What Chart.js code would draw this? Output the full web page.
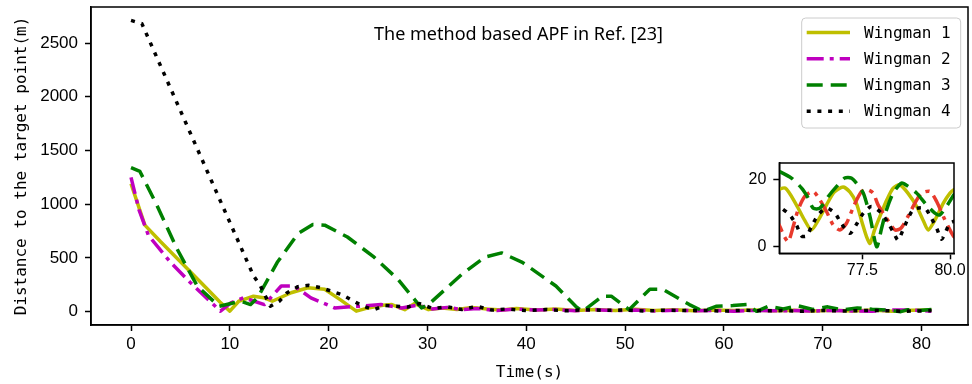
<!DOCTYPE html>
<html>
<head>
<meta charset="utf-8">
<script src="https://cdn.jsdelivr.net/npm/chart.js@4.4.0/dist/chart.umd.min.js"></script>
<style>
  html, body { margin: 0; padding: 0; background: #fff; }
  #wrap { position: relative; width: 972px; height: 384px; }
  #main { position: absolute; left: 0; top: 0; }
  #inset { position: absolute; left: 739px; top: 150px; }
</style>
</head>
<body>
<div id="wrap">
  <canvas id="main" width="972" height="384"></canvas>
  <canvas id="inset" width="233" height="134"></canvas>
</div>
<script>
// ---- main plot data (time in s, distance in m) ----
const w1Time = [0, 1.4, 3, 5, 7, 9, 10, 10.9, 12.4, 13.4, 14.3, 16.2, 17.9, 19.6, 21.2, 22.8, 24.0, 25.5, 26.4, 27.7, 28.7, 30.1,
  31.5, 33, 34.5, 36, 37.5, 39, 41, 43, 45, 47, 49, 51, 53, 55, 57, 59, 61, 63, 65, 67, 69, 71, 73, 75, 77, 79, 81];
const w1Dist = [1190, 805, 650, 465, 278, 90, 5, 97, 144, 130, 97, 176, 223, 208, 110, 5, 35, 60, 66, 19, 75, 19,
  35, 20, 40, 25, 15, 30, 15, 25, 10, 20, 12, 22, 10, 18, 8, 16, 10, 15, 8, 14, 7, 13, 6, 16, 3, 14, 16];

const w2Time = [0, 0.8, 1.76, 4, 6, 9.05, 10.1, 11.4, 13.5, 15.2, 16.5, 18.2, 20.6, 23.0, 25.3, 27.4,
  29, 30.5, 32, 33.5, 35, 37, 39, 41, 43, 45, 47, 49, 51, 53, 55, 57, 59, 61, 63, 65, 67, 69, 71, 73, 75, 77, 79, 81];
const w2Dist = [1250, 950, 710, 459, 271, 5, 82, 129, 66, 239, 239, 129, 35, 50, 66, 35,
  60, 25, 40, 20, 30, 10, 25, 15, 20, 8, 18, 10, 15, 6, 14, 8, 12, 5, 12, 8, 10, 5, 12, 7, 4, 16, 15, 5];

const w3Time = [0, 0.9, 2.6, 4.65, 6.7, 8.9, 11.1, 12.1, 12.8, 14.8, 16.9, 18.4, 19.6, 21.9, 24.6, 27.0, 28.7, 29.4,
  30.1, 33.5, 35.8, 37.5, 39.6, 43.0, 45.0, 45.7, 47.7, 48.6, 50.4, 52.5, 53.8, 56.5, 57.9, 59.2, 60.9, 62.3, 63.3,
  64.5, 66, 67.5, 69, 70.5, 72, 73.5, 75, 76.5, 77.9, 78.6, 79.7, 81];
const w3Dist = [1340, 1305, 994, 585, 239, 50, 97, 66, 129, 459, 726, 811, 805, 695, 507, 302, 113, 35,
  66, 349, 507, 547, 459, 239, 50, 3, 144, 144, 19, 208, 208, 66, 3, 50, 57, 66, 3,
  50, 25, 55, 20, 45, 15, 35, 22, 15, 0, 19, 10, 20];

const w4Time = [0, 1.1, 12.4, 13.1, 14.1, 15.0, 15.8, 16.9, 18.0, 19.2, 21.3, 23.5, 24.6, 25.7, 28.0, 29.2,
  30.5, 32, 33.5, 35, 36.5, 38, 40, 42, 44, 46, 48, 50, 52, 54, 56, 58, 60, 62, 64, 66, 68, 70, 72, 74, 76, 78, 80, 81];
const w4Dist = [2710, 2680, 333, 239, 50, 97, 176, 233, 245, 223, 160, 50, 19, 57, 44, 75,
  30, 45, 20, 50, 15, 25, 10, 20, 8, 18, 12, 15, 6, 14, 10, 12, 5, 13, 8, 10, 4, 12, 6, 10, 10, 4, 7, 10];

// ---- inset data (zoom on 75–80 s) ----
const in1Time = [75.0, 75.3, 75.62, 75.85, 76.05, 76.25, 76.48, 76.7, 76.95, 77.15, 77.33, 77.5, 77.62, 77.72, 77.85,
  78.0, 78.2, 78.38, 78.57, 78.8, 79.05, 79.25, 79.38, 79.6, 79.81, 80.0, 80.11, 80.25];
const in1Dist = [16.5, 17.5, 12.5, 8, 5, 8, 12.5, 16.3, 17.8, 16.3, 13, 7, 3, 1, 5,
  9, 14, 17.5, 18.5, 16, 12, 7.5, 5, 8.5, 13, 16, 17, 17.5];

const in2Time = [75.0, 75.15, 75.28, 75.39, 75.53, 75.67, 75.86, 76.1, 76.29, 76.48, 76.67, 76.86, 77.05, 77.25, 77.48,
  77.65, 77.81, 77.95, 78.19, 78.43, 78.6, 78.8, 79.0, 79.19, 79.43, 79.62, 79.81, 79.95, 80.11, 80.25];
const in2Dist = [9, 6, 3, 1.5, 6, 11, 15, 16.5, 14, 10.5, 6.5, 5, 7, 12, 16.5,
  17, 16, 12.5, 8.5, 5, 5.5, 9, 13, 16, 16.5, 13.5, 9, 6, 3, 2];

const in3Time = [75.0, 75.13, 75.48, 75.77, 75.96, 76.1, 76.29, 76.53, 76.77, 77.0, 77.19, 77.33, 77.53, 77.72, 77.91,
  78.05, 78.19, 78.38, 78.62, 78.81, 79.05, 79.33, 79.57, 79.71, 79.9, 80.11, 80.25];
const in3Dist = [23, 22.5, 20.5, 17.5, 14.5, 11.5, 11.5, 15, 18, 20.5, 20.5, 19, 16, 9, 0,
  5.5, 11, 16, 19, 18, 16, 12.5, 10, 9.5, 12, 15.5, 17];

const in4Time = [75.0, 75.2, 75.43, 75.62, 75.77, 75.91, 76.05, 76.24, 76.48, 76.72, 76.91, 77.15, 77.34, 77.53, 77.76,
  78.05, 78.24, 78.4, 78.52, 78.7, 78.95, 79.28, 79.47, 79.62, 79.76, 79.88, 80.0, 80.25];
const in4Dist = [13, 11.5, 9.5, 6.5, 3.2, 3.2, 6, 9.5, 11.5, 10, 6.8, 4, 6.8, 10, 12,
  10, 7, 4, 2, 6, 11, 11.5, 8.5, 5.5, 2.2, 4.5, 7, 8];

const seriesNames = ['Wingman 1', 'Wingman 2', 'Wingman 3', 'Wingman 4'];
const xTicks = [0, 10, 20, 30, 40, 50, 60, 70, 80];
const yTicks = [0, 500, 1000, 1500, 2000, 2500];
const insetXTicks = [77.5, 80.0];
const insetYTicks = [0, 20];
const titleText = 'The method based APF in Ref. [23]';

// ---- styles ----
const colors = ['#bfbf00', '#bf00bf', '#008000', '#000000'];
const insetColors = ['#bfbf00', '#e8392c', '#008000', '#000000'];
const dashes = [[], [17, 6, 4, 6], [16, 8], [4, 6.7]];
const LW = 3.5;
const tickFont = { family: 'Liberation Sans', size: 17 };

function pts(t, d) {
  return t.map((v, i) => ({ x: v, y: d[i] }));
}

function makeSets(pairs, cols, width, tension) {
  return pairs.map((p, i) => ({
    label: seriesNames[i],
    data: pts(p[0], p[1]),
    borderColor: cols[i],
    backgroundColor: cols[i],
    borderWidth: width,
    borderDash: dashes[i],
    borderCapStyle: 'butt',
    borderJoinStyle: 'round',
    pointRadius: 0,
    fill: false,
    tension: tension,
    order: 4 - i
  }));
}

function fixTicks(values) {
  return function (scale) {
    scale.ticks = values.map(v => ({ value: v }));
  };
}

// fixed axis size, no extra padding for overflowing tick labels
function fitSize(prop, size) {
  return function (s) {
    s[prop] = size;
    s.paddingTop = 0; s.paddingBottom = 0; s.paddingLeft = 0; s.paddingRight = 0;
  };
}

const boxPlugin = {
  id: 'boxPlugin',
  beforeDraw(chart) {
    const a = chart.chartArea, ctx = chart.ctx;
    ctx.save();
    ctx.fillStyle = '#fff';
    ctx.fillRect(a.left, a.top, a.right - a.left, a.bottom - a.top);
    ctx.restore();
  },
  afterDraw(chart) {
    const a = chart.chartArea, ctx = chart.ctx;
    ctx.save();
    ctx.strokeStyle = '#000';
    ctx.lineWidth = 1.5;
    ctx.strokeRect(a.left, a.top, a.right - a.left, a.bottom - a.top);
    ctx.restore();
  }
};

// title text and legend inside the main axes
const decorPlugin = {
  id: 'decorPlugin',
  afterDraw(chart) {
    const a = chart.chartArea, ctx = chart.ctx;
    ctx.save();
    ctx.fillStyle = '#000';
    ctx.font = '18px "Noto Sans"';
    ctx.textAlign = 'center';
    ctx.textBaseline = 'alphabetic';
    ctx.fillText(titleText, (a.left + a.right) / 2 - 11, a.top + 33);

    // legend
    const bw = 159, bh = 110;
    const bx = a.right - 7.3 - bw, by = a.top + 11;
    ctx.beginPath();
    ctx.roundRect(bx, by, bw, bh, 4);
    ctx.fillStyle = 'rgba(255,255,255,0.8)';
    ctx.fill();
    ctx.strokeStyle = '#cccccc';
    ctx.lineWidth = 1;
    ctx.stroke();
    ctx.font = '16px "DejaVu Sans Mono"';
    ctx.textAlign = 'left';
    ctx.textBaseline = 'middle';
    chart.data.datasets.forEach((ds, i) => {
      const y = by + 14.4 + i * 26.3;
      ctx.beginPath();
      ctx.setLineDash(ds.borderDash);
      ctx.lineCap = 'butt';
      ctx.strokeStyle = ds.borderColor;
      ctx.lineWidth = LW;
      ctx.moveTo(bx + 5, y);
      ctx.lineTo(bx + 48.3, y);
      ctx.stroke();
      ctx.setLineDash([]);
      ctx.fillStyle = '#000';
      ctx.fillText(ds.label, bx + 62.3, y + 1);
    });
    ctx.restore();
  }
};

function axisOpts(extra) {
  return Object.assign({
    type: 'linear',
    grid: { drawOnChartArea: false, drawTicks: true, tickLength: 6, tickWidth: 1.5, color: '#000', tickColor: '#000' },
    border: { display: true, color: '#000', width: 1.5 },
  }, extra);
}

new Chart(document.getElementById('main'), {
  type: 'line',
  data: {
    datasets: makeSets([[w1Time, w1Dist], [w2Time, w2Dist], [w3Time, w3Dist], [w4Time, w4Dist]], colors, LW, 0)
  },
  options: {
    responsive: false,
    animation: false,
    events: [],
    layout: { padding: { left: 0, top: 7, right: 4, bottom: 0 } },
    plugins: { legend: { display: false }, tooltip: { enabled: false } },
    scales: {
      x: axisOpts({
        min: -4.05, max: 84.7,
        afterBuildTicks: fixTicks(xTicks),
        afterFit: fitSize('height', 59),
        ticks: { color: '#000', font: tickFont, padding: 3, maxRotation: 0, autoSkip: false,
          callback: v => String(v) },
        title: { display: true, text: 'Time(s)', color: '#000', font: { family: 'DejaVu Sans Mono', size: 16 }, padding: { top: 0, bottom: 2 } }
      }),
      y: axisOpts({
        min: -124, max: 2835,
        afterBuildTicks: fixTicks(yTicks),
        afterFit: fitSize('width', 91),
        ticks: { color: '#000', font: tickFont, padding: 7,
          callback: v => String(v) },
        title: { display: true, text: 'Distance to the target point(m)', color: '#000', font: { family: 'DejaVu Sans Mono', size: 16 }, padding: { top: 12, bottom: 0 } }
      })
    }
  },
  plugins: [boxPlugin, decorPlugin]
});

new Chart(document.getElementById('inset'), {
  type: 'line',
  data: {
    datasets: makeSets([[in1Time, in1Dist], [in2Time, in2Dist], [in3Time, in3Dist], [in4Time, in4Dist]], insetColors, LW, 0.25)
  },
  options: {
    responsive: false,
    animation: false,
    events: [],
    layout: { padding: { left: 0, top: 13, right: 18, bottom: 0 } },
    plugins: { legend: { display: false }, tooltip: { enabled: false } },
    scales: {
      x: axisOpts({
        min: 75.134, max: 80.114,
        afterBuildTicks: fixTicks(insetXTicks),
        afterFit: fitSize('height', 30.7),
        ticks: { color: '#000', font: { family: 'Liberation Sans', size: 16 }, padding: 2, maxRotation: 0, autoSkip: false,
          callback: v => v.toFixed(1) }
      }),
      y: axisOpts({
        min: -1.98, max: 25.0,
        afterBuildTicks: fixTicks(insetYTicks),
        afterFit: fitSize('width', 40.3),
        ticks: { color: '#000', font: { family: 'Liberation Sans', size: 16 }, padding: 7 }
      })
    }
  },
  plugins: [boxPlugin]
});
</script>
</body>
</html>
